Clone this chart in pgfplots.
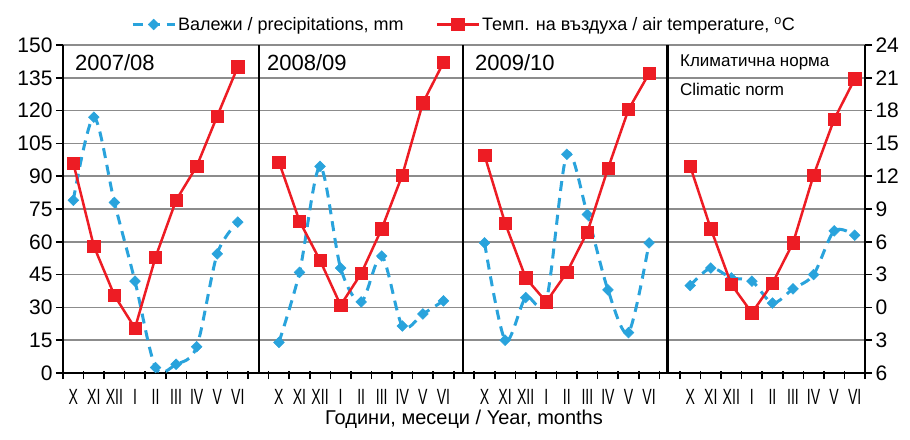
\documentclass[border=0pt]{standalone}
\usepackage{pgfplots}
\pgfplotsset{compat=1.18}
\usepackage{pgfplotstable}
\usepackage{fontspec}
\setmainfont{Liberation Sans}

\definecolor{pblue}{RGB}{41,163,220}
\definecolor{tred}{RGB}{237,28,36}
\definecolor{gridgray}{RGB}{140,140,140}
\newcommand{\rn}[1]{\scalebox{0.64}[1]{#1}}

% precipitation, mm
\pgfplotstableread{
x y
0 79
1 117
2 78
3 42
4 2.5
5 4
6 12
7 54.5
8 69
}\pA
\pgfplotstableread{
x y
10 14
11 46
12 94.5
13 48
14 32.5
15 53.5
16 21.5
17 27
18 33
}\pB
\pgfplotstableread{
x y
20 59.5
21 15
22 34.5
23 33
24 100
25 72.5
26 38
27 18.5
28 59.5
}\pC
\pgfplotstableread{
x y
30 40
31 48
32 43.5
33 42
34 32
35 38.5
36 45
37 65
38 63
}\pD
% air temperature, C
\pgfplotstableread{
x y
0 13.2
1 5.6
2 1.1
3 -1.9
4 4.6
5 9.8
6 12.9
7 17.5
8 22.0
}\tA
\pgfplotstableread{
x y
10 13.3
11 7.9
12 4.3
13 0.2
14 3.1
15 7.2
16 12.1
17 18.7
18 22.4
}\tB
\pgfplotstableread{
x y
20 13.9
21 7.7
22 2.7
23 0.5
24 3.2
25 6.9
26 12.7
27 18.1
28 21.4
}\tC
\pgfplotstableread{
x y
30 12.9
31 7.2
32 2.1
33 -0.5
34 2.2
35 5.9
36 12.1
37 17.2
38 20.9
}\tD

\pgfplotsset{
  base/.style={
    scale only axis, width=802pt, height=328pt,
    xmin=-0.5, xmax=38.5, clip=false,
    tick label style={font=\fontsize{21}{21}\selectfont},
    /pgf/number format/assume math mode=true,
    axis line style={black, line width=2pt, -},
    tick align=outside,
    major tick length=7pt,
    tick style={black, line width=1.6pt},
  },
  pstyle/.style={pblue, line width=3pt, dash pattern=on 10pt off 7pt, smooth,
    mark=square*, mark size=3.8pt, mark options={solid, rotate=45, fill=pblue, draw=pblue, line width=0.5pt}},
  tstyle/.style={tred, line width=2.5pt, mark=square*, mark size=6.2pt,
    mark options={solid, fill=tred, draw=tred, line width=0.5pt}},
}

\begin{document}
\begin{tikzpicture}
\begin{axis}[base, name=ax,
  ymin=0, ymax=150, ytick={0,15,...,150},
  axis x line*=bottom, axis y line*=left,
  ymajorgrids, grid style={gridgray, line width=1.6pt},
  xtick={0,1,2,3,4,5,6,7,8,10,11,12,13,14,15,16,17,18,20,21,22,23,24,25,26,27,28,30,31,32,33,34,35,36,37,38},
  xticklabels={\rn{X},\rn{XI},\rn{XII},\rn{I},\rn{II},\rn{III},\rn{IV},\rn{V},\rn{VI},
               \rn{X},\rn{XI},\rn{XII},\rn{I},\rn{II},\rn{III},\rn{IV},\rn{V},\rn{VI},
               \rn{X},\rn{XI},\rn{XII},\rn{I},\rn{II},\rn{III},\rn{IV},\rn{V},\rn{VI},
               \rn{X},\rn{XI},\rn{XII},\rn{I},\rn{II},\rn{III},\rn{IV},\rn{V},\rn{VI}},
  major x tick style={draw=none},
  minor xtick={-0.5,0.5,...,38.5},
  minor x tick style={black, line width=1.6pt, yshift=2pt},
  minor tick length=8pt,
  xticklabel style={font=\fontsize{22}{22}\selectfont, yshift=-6pt},
  legend style={at={(0.5,1)}, anchor=south, yshift=9pt, draw=none, fill=none,
    legend columns=2, font=\fontsize{18}{18}\selectfont,
    /tikz/every even column/.append style={column sep=30pt}},
  legend cell align=left,
  legend image code/.code={\draw[#1, mark repeat=2, mark phase=2] plot coordinates {(0pt,0pt) (21pt,0pt) (42pt,0pt)};},
]
\addplot[pstyle] table {\pA};
\addlegendentry{Валежи / precipitations, mm}
\addplot[pstyle, forget plot] table {\pB};
\addplot[pstyle, forget plot] table {\pC};
\addplot[pstyle, forget plot] table {\pD};
\addlegendimage{tstyle}
\addlegendentry{Темп. на въздуха / air temperature, \textsuperscript{o}C}
\draw[black, line width=2.2pt] (axis cs:9.05,0) -- (axis cs:9.05,150);
\draw[black, line width=2.2pt] (axis cs:18.95,0) -- (axis cs:18.95,150);
\draw[black, line width=2.2pt] (axis cs:28.9,0) -- (axis cs:28.9,150);
\node[anchor=west, inner sep=0pt, font=\fontsize{22}{22}\selectfont] at (axis cs:0.08,142) {2007/08};
\node[anchor=west, inner sep=0pt, font=\fontsize{22}{22}\selectfont] at (axis cs:9.42,142) {2008/09};
\node[anchor=west, inner sep=0pt, font=\fontsize{22}{22}\selectfont] at (axis cs:19.53,142) {2009/10};
\node[anchor=west, inner sep=0pt, font=\fontsize{17}{17}\selectfont] at (axis cs:29.5,142) {Климатична норма};
\node[anchor=west, inner sep=0pt, font=\fontsize{17}{17}\selectfont] at (axis cs:29.5,129.5) {Climatic norm};
\end{axis}
\begin{axis}[base,
  ymin=-6, ymax=24, ytick={-6,-3,...,24},
  yticklabels={6,3,0,3,6,9,12,15,18,21,24},
  axis y line*=right, axis x line=none,
]
\addplot[tstyle] table {\tA};
\addplot[tstyle] table {\tB};
\addplot[tstyle] table {\tC};
\addplot[tstyle] table {\tD};
\end{axis}
\node[anchor=base, inner sep=0pt, font=\fontsize{20}{20}\selectfont] at ([yshift=-51pt]ax.south) {Години, месеци / Year, months};
\path[use as bounding box] ([xshift=-63pt,yshift=-66pt]ax.south west) rectangle ([xshift=45pt,yshift=45pt]ax.north east);
\end{tikzpicture}
\end{document}
